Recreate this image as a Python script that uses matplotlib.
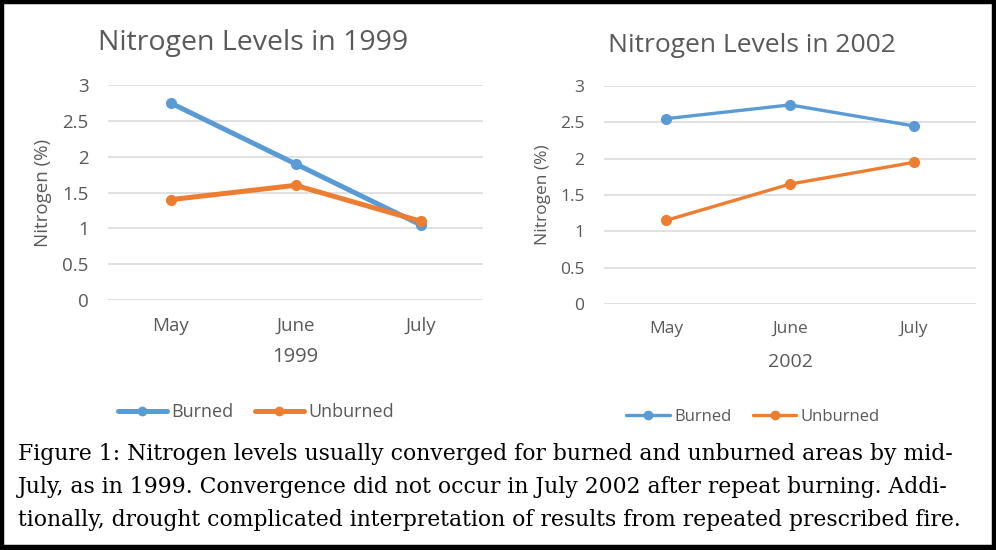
import matplotlib
matplotlib.use("Agg")
import matplotlib.pyplot as plt
from matplotlib.patches import Rectangle
from matplotlib.lines import Line2D

months = ["May", "June", "July"]
burned_1999 = [2.75, 1.90, 1.05]
unburned_1999 = [1.40, 1.60, 1.10]
burned_2002 = [2.55, 2.74, 2.45]
unburned_2002 = [1.15, 1.65, 1.95]
yticks = [0, 0.5, 1, 1.5, 2, 2.5, 3]
ytick_labels = ["0", "0.5", "1", "1.5", "2", "2.5", "3"]
caption_lines = [
    "Figure 1: Nitrogen levels usually converged for burned and unburned areas by mid-",
    "July, as in 1999. Convergence did not occur in July 2002 after repeat burning. Addi-",
    "tionally, drought complicated interpretation of results from repeated prescribed fire.",
]

BLUE = "#5B9BD5"
ORANGE = "#ED7D31"
TXT = "#595959"
GRID = "#D9D9D9"
FONT = "Open Sans"

W, H = 996, 550
fig = plt.figure(figsize=(W / 100, H / 100), dpi=100)
fig.patch.set_facecolor("white")


def px_axes(x0, x1, ytop, ybot):
    return fig.add_axes([x0 / W, (H - ybot) / H, (x1 - x0) / W, (ybot - ytop) / H])


def draw(ax, burned, unburned, title, xlabel, lw, ms, fs, title_xy, ylab_x, xlab_y,
         leg_y, leg_x, hl, cs):
    x = list(range(len(months)))
    ax.plot(x, burned, color=BLUE, lw=lw, marker="o", ms=ms, zorder=3, clip_on=False,
            solid_capstyle="round", solid_joinstyle="round")
    ax.plot(x, unburned, color=ORANGE, lw=lw, marker="o", ms=ms, zorder=3, clip_on=False,
            solid_capstyle="round", solid_joinstyle="round")
    ax.set_xlim(-0.5, 2.5)
    ax.set_ylim(0, 3)
    ax.set_yticks(yticks)
    ax.set_yticklabels(ytick_labels, fontsize=fs["tick"], color=TXT, family=FONT)
    ax.set_xticks(x)
    ax.set_xticklabels(months, fontsize=fs["tick"], color=TXT, family=FONT)
    ax.tick_params(length=0)
    ax.tick_params(axis="y", pad=14)
    ax.tick_params(axis="x", pad=12)
    ax.grid(axis="y", color=GRID, lw=1.1)
    ax.set_axisbelow(True)
    for s in ax.spines.values():
        s.set_visible(False)
    fig.text(title_xy[0] / W, 1 - title_xy[1] / H, title, fontsize=fs["title"], color=TXT,
             family=FONT, ha="center", va="center")
    pos = ax.get_position()
    fig.text(ylab_x / W, pos.y0 + pos.height / 2, "Nitrogen (%)", rotation=90,
             fontsize=fs["ylab"], color=TXT, family=FONT, ha="center", va="center")
    fig.text(pos.x0 + pos.width / 2, 1 - xlab_y / H, xlabel, fontsize=fs["xlab"], color=TXT,
             family=FONT, ha="center", va="center")
    handles = [Line2D([], [], color=BLUE, lw=lw, marker="o", ms=ms - 1, solid_capstyle="round"),
               Line2D([], [], color=ORANGE, lw=lw, marker="o", ms=ms - 1, solid_capstyle="round")]
    fig.legend(handles, ["Burned", "Unburned"], loc="center",
               bbox_to_anchor=(leg_x / W, 1 - leg_y / H), ncol=2, frameon=False,
               prop={"family": FONT, "size": fs["leg"]}, labelcolor=TXT, handlelength=hl,
               handletextpad=0.25, columnspacing=cs, borderpad=0)


ax1 = px_axes(108, 483, 85, 300)
draw(ax1, burned_1999, unburned_1999, "Nitrogen Levels in 1999", "1999", 3.6, 7,
     {"tick": 13.5, "title": 20.5, "ylab": 13.5, "xlab": 14.5, "leg": 13},
     (253, 43), 43, 357, 412, 256, 2.7, 1.2)

ax2 = px_axes(604, 976, 86, 304)
draw(ax2, burned_2002, unburned_2002, "Nitrogen Levels in 2002", "2002", 2.4, 7,
     {"tick": 12.5, "title": 19, "ylab": 12.5, "xlab": 14, "leg": 12},
     (752, 45), 543, 362, 417, 753, 2.6, 1.3)

baselines = [460, 493, 526]
for yb, line in zip(baselines, caption_lines):
    fig.text(18 / W, 1 - yb / H, line, fontsize=15.75, family="DejaVu Serif",
             color="black", ha="left", va="baseline")

fig.patches.append(Rectangle((2 / W, 3 / H), (W - 4) / W, (H - 5) / H, transform=fig.transFigure,
                             fill=False, edgecolor="black", lw=3.2))
fig.patches.append(Rectangle((0, 0), 1, 5 / H, transform=fig.transFigure,
                             facecolor="black", edgecolor="none"))

fig.savefig("out.png", dpi=100)
